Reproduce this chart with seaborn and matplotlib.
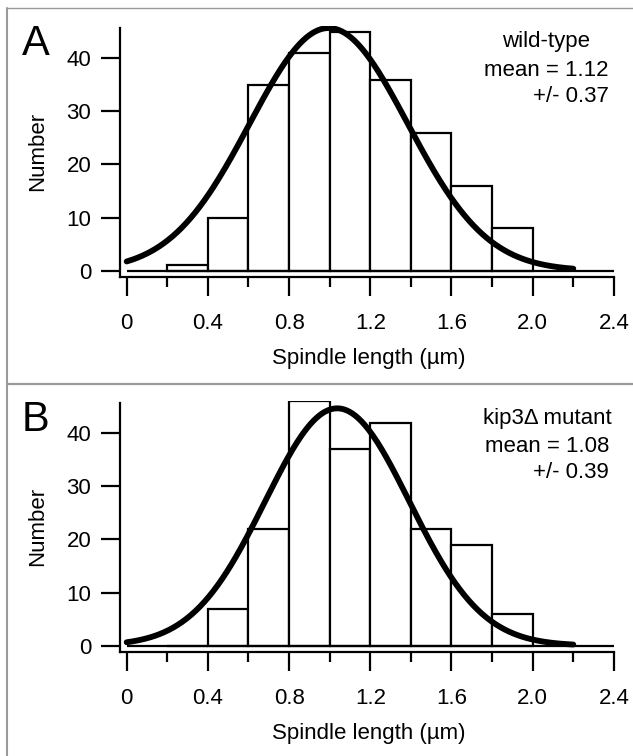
import numpy as np
import pandas as pd
import matplotlib
matplotlib.use("Agg")
import matplotlib.pyplot as plt
from matplotlib.lines import Line2D
import seaborn as sns

# ---- data ----
bin_edges = [0.2, 0.4, 0.6, 0.8, 1.0, 1.2, 1.4, 1.6, 1.8, 2.0]
counts_wt = [1, 10, 35, 41, 45, 36, 26, 16, 8]
counts_kip3 = [0, 7, 22, 46, 37, 42, 22, 19, 6]

# Gaussian fit curves (amplitude, centre, sigma)
fit_wt = (45.7, 0.995, 0.389)
fit_kip3 = (44.7, 1.037, 0.356)
fit_range = (0.0, 2.2)

xticks = [0, 0.4, 0.8, 1.2, 1.6, 2.0, 2.4]
xticklabels = ["0", "0.4", "0.8", "1.2", "1.6", "2.0", "2.4"]
xminor = [0.2, 0.6, 1.0, 1.4, 1.8, 2.2]
yticks = [0, 10, 20, 30, 40]

panel_letters = ["A", "B"]
panel_text = [["wild-type", "mean = 1.12", "+/- 0.37"],
              ["kip3\u0394 mutant", "mean = 1.08", "+/- 0.39"]]

# ---- style ----
sns.set_theme(style="ticks")
plt.rcParams["font.family"] = ["Liberation Sans", "DejaVu Sans"]

W, H = 633, 756
fig = plt.figure(figsize=(W / 100, H / 100), dpi=100)

px_per_x = 203.0
px_per_y = 5.31
x_left, x_right = -0.033, 2.42
y_bot, y_top = -1.19, 46.0
ax_left_px = 120
ax_bottom_px = [277, 652]

FS = 16
BLACK = "black"

for i, (counts, fit) in enumerate([(counts_wt, fit_wt), (counts_kip3, fit_kip3)]):
    w_px = (x_right - x_left) * px_per_x
    h_px = (y_top - y_bot) * px_per_y
    ax = fig.add_axes([ax_left_px / W, (H - ax_bottom_px[i]) / H, w_px / W, h_px / H])
    ax.patch.set_alpha(0)

    centers = [(a + b) / 2 for a, b in zip(bin_edges[:-1], bin_edges[1:])]
    df = pd.DataFrame({"length": centers, "n": counts})
    sns.histplot(data=df, x="length", weights="n", bins=bin_edges, ax=ax,
                 color="white", edgecolor=BLACK, linewidth=1.6, alpha=1)

    amp, mu, sig = fit
    xs = np.linspace(fit_range[0], fit_range[1], 300)
    ys = amp * np.exp(-(xs - mu) ** 2 / (2 * sig ** 2))
    sns.lineplot(x=xs, y=ys, ax=ax, color=BLACK, linewidth=4.2)

    ax.hlines(0, xticks[0], xticks[-1], color=BLACK, linewidth=1.6)

    ax.set_xlim(x_left, x_right)
    ax.set_ylim(y_bot, y_top)
    for s in ["top", "right"]:
        ax.spines[s].set_visible(False)
    for s in ["left", "bottom"]:
        ax.spines[s].set_linewidth(1.6)
        ax.spines[s].set_color(BLACK)
    ax.spines["left"].set_bounds(y_bot, 45.7)
    ax.spines["bottom"].set_bounds(x_left, xticks[-1])

    ax.set_xticks(xticks)
    ax.set_xticklabels(xticklabels)
    ax.set_xticks(xminor, minor=True)
    ax.set_yticks(yticks)
    ax.tick_params(axis="x", which="major", length=13.7, width=1.6, pad=12,
                   labelsize=FS, color=BLACK, labelcolor=BLACK)
    ax.tick_params(axis="x", which="minor", length=7.2, width=1.6, color=BLACK)
    ax.tick_params(axis="y", which="major", length=13.7, width=1.6, pad=7,
                   labelsize=FS, color=BLACK, labelcolor=BLACK)
    ax.set_xlabel("Spindle length (\u00b5m)", fontsize=FS, labelpad=10, color=BLACK)
    ax.set_ylabel("Number", fontsize=FS, labelpad=13, color=BLACK)

    off = 0 if i == 0 else 376
    fig.text(22 / W, 1 - (55 + off) / H, panel_letters[i], fontsize=30,
             ha="left", va="baseline", color=BLACK)
    lines = panel_text[i]
    if i == 0:
        fig.text(546.5 / W, 1 - (47 + off) / H, lines[0], fontsize=FS,
                 ha="center", va="baseline", color=BLACK)
    else:
        fig.text(612 / W, 1 - (48 + off) / H, lines[0], fontsize=FS,
                 ha="right", va="baseline", color=BLACK)
    fig.text(609 / W, 1 - (76 + off) / H, lines[1], fontsize=FS,
             ha="right", va="baseline", color=BLACK)
    fig.text(609 / W, 1 - (102 + off) / H, lines[2], fontsize=FS,
             ha="right", va="baseline", color=BLACK)

# frame lines
gray = "#9a9a9a"
fig.add_artist(Line2D([6.5 / W, 6.5 / W], [0, 1 - 8 / H], transform=fig.transFigure,
                      color=gray, linewidth=1.5))
fig.add_artist(Line2D([6.5 / W, 1], [1 - 8 / H, 1 - 8 / H], transform=fig.transFigure,
                      color=gray, linewidth=1.0))
fig.add_artist(Line2D([6.5 / W, 1], [1 - 383.5 / H, 1 - 383.5 / H], transform=fig.transFigure,
                      color=gray, linewidth=1.6))

fig.savefig("out.png", dpi=100)
